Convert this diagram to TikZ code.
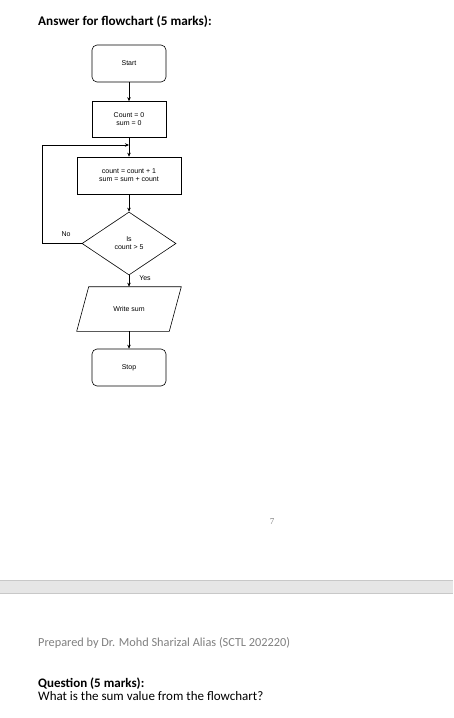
\documentclass[tikz,border=0pt]{standalone}
\usepackage{fontspec}
\setmainfont{Carlito}
\newfontfamily\chartfont{Liberation Sans}
\newfontfamily\numfont{Liberation Serif}
\usetikzlibrary{shapes.geometric,arrows.meta}
\definecolor{bandgray}{HTML}{E6E6E6}
\definecolor{bandline}{HTML}{C8C8C8}
\definecolor{prepgray}{HTML}{7F7F7F}
\begin{document}
\begin{tikzpicture}
[x=1pt,y=-1pt,
 box/.style={draw, line width=0.6pt, inner sep=0pt, align=center, font=\chartfont\fontsize{7}{8}\selectfont},
 term/.style={box, rounded corners=5pt, minimum width=74pt, minimum height=37pt},
 proc/.style={box, minimum height=36pt},
 dec/.style={box, diamond, minimum width=94pt, minimum height=63pt},
 io/.style={box, draw=none, minimum width=92pt, minimum height=44pt},
 arr/.style={-{Stealth[length=4pt,width=3.5pt]}, line width=0.6pt},
 lbl/.style={font=\chartfont\fontsize{7}{8}\selectfont, inner sep=0pt},
 pagetext/.style={anchor=base west, inner sep=0pt}]
\useasboundingbox (0,0) rectangle (453,718);
\node[pagetext, font=\bfseries\fontsize{13.2}{16}\selectfont] (title) at (38,25) {Answer for flowchart (5 marks):};
\node[term] (start) at (129,63.5) {Start};
\node[proc, minimum width=74pt] (init) at (129,119.5) {Count = 0\\sum = 0};
\node[proc, minimum width=104pt, minimum height=37pt] (upd) at (129,175.5) {count = count + 1\\sum = sum + count};
\node[dec] (test) at (129,243.5) {Is\\count > 5};
\node[io] (out) at (129,309) {Write sum};
\draw[line width=0.6pt] ([xshift=6pt]out.north west) -- ([xshift=6pt]out.north east)
  -- ([xshift=-6pt]out.south east) -- ([xshift=-6pt]out.south west) -- cycle;
\node[term] (stop) at (129,367.5) {Stop};
\coordinate (back) at (42,145);
\coordinate (join) at (129,145);
\draw[arr] (start) -- (init);
\draw[arr] (init) -- (upd);
\draw[arr] (upd) -- (test);
\draw[arr] (test) -- (out);
\draw[arr] (out) -- (stop);
\draw[arr] (test.west) -| (back) -- (join);
\node[lbl] (no) at (66,234) {No};
\node[lbl] (yes) at (145,278.5) {Yes};
\node[font=\numfont\fontsize{9}{10}\selectfont, text=prepgray] (pgno) at (272,522) {7};
\fill[bandgray] (0,580) rectangle (453,593);
\draw[bandline] (0,580) -- (453,580);
\draw[bandline] (0,593) -- (453,593);
\node[pagetext, text=prepgray, font=\fontsize{12.3}{15}\selectfont] (prep) at (38,646.5) {Prepared by Dr. Mohd Sharizal Alias (SCTL 202220)};
\node[pagetext, font=\bfseries\fontsize{13}{16}\selectfont] (quest) at (38,687) {Question (5 marks):};
\node[pagetext, font=\fontsize{13}{16}\selectfont] (qtext) at (38,700.5) {What is the sum value from the flowchart?};
\end{tikzpicture}
\end{document}
